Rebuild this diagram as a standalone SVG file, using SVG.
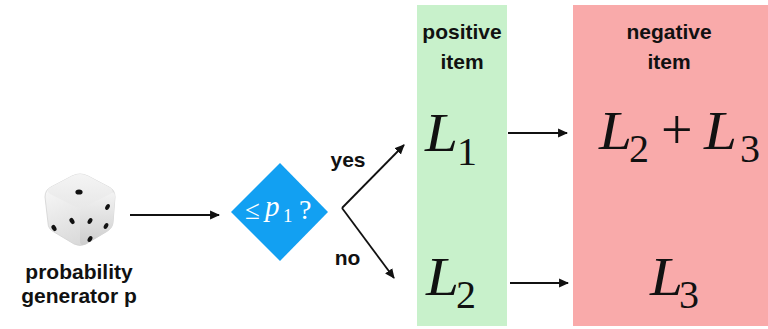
<svg xmlns="http://www.w3.org/2000/svg" width="768" height="329" viewBox="0 0 768 329">
  <style>
    .lbl { font-family: "Liberation Sans", Arial, sans-serif; font-weight: bold; font-size: 21px; fill: #111; }
    .math { font-family: "Liberation Serif", "Times New Roman", serif; fill: #111; }
    .it { font-style: italic; }
    .inv { fill: #fff; }
    .edge { stroke: #111; stroke-width: 1.8; fill: none; marker-end: url(#head); }
    .pip { fill: #111; }
  </style>
  <defs>
    <marker id="head" viewBox="0 0 10 10" refX="9" refY="5" markerWidth="5.5" markerHeight="5.5" markerUnits="strokeWidth" orient="auto">
      <path d="M0,0.5 L10,5 L0,9.5 z" fill="#111"/>
    </marker>
    <linearGradient id="topFace" x1="0" y1="0" x2="0" y2="1">
      <stop offset="0" stop-color="#f4f4f4"/>
      <stop offset="1" stop-color="#e8e8e8"/>
    </linearGradient>
    <linearGradient id="leftFace" x1="0" y1="0" x2="0.4" y2="1">
      <stop offset="0" stop-color="#fdfdfd"/>
      <stop offset="1" stop-color="#dadada"/>
    </linearGradient>
    <linearGradient id="rightFace" x1="0" y1="0" x2="0" y2="1">
      <stop offset="0" stop-color="#f3f3f3"/>
      <stop offset="1" stop-color="#cdcdcd"/>
    </linearGradient>
  </defs>

  <!-- column backgrounds -->
  <rect x="417" y="5" width="90" height="321" fill="#c8f1cb"/>
  <rect x="573" y="5" width="195" height="321" fill="#f9aaaa"/>

  <!-- connectors -->
  <g id="connectors">
    <line class="edge" x1="130" y1="215" x2="219" y2="215"/>
    <line class="edge" x1="342" y1="208" x2="404" y2="145"/>
    <line class="edge" x1="342" y1="208" x2="394" y2="278"/>
    <line class="edge" x1="508" y1="133" x2="567" y2="133"/>
    <line class="edge" x1="510" y1="283" x2="568" y2="283"/>
  </g>

  <!-- die -->
  <g id="generator">
    <path d="M72,176 Q80,172 88,176 L109,187 Q115,190 115,197 L113,223 Q112,229 106,232 L86,244 Q80,247 74,244 L54,232 Q48,229 48,223 L45,197 Q45,190 51,187 Z" fill="url(#leftFace)" stroke="#d2d2d2" stroke-width="0.8"/>
    <path d="M72,176 Q80,172 88,176 L109,187 Q115,190 110,194 L86,206 Q80,209 74,206 L50,194 Q45,190 51,187 Z" fill="url(#topFace)"/>
    <path d="M110,194 Q115,190 115,197 L113,223 Q112,229 106,232 L86,244 Q80,247 80,241 L80,212 Q80,208 86,206 Z" fill="url(#rightFace)"/>
    <ellipse class="pip" cx="79" cy="192" rx="3.6" ry="2.6"/>
    <ellipse class="pip" cx="54" cy="228" rx="2.2" ry="3.3" transform="rotate(-30 54 228)"/>
    <ellipse class="pip" cx="72" cy="221" rx="2.2" ry="3.3" transform="rotate(-30 72 221)"/>
    <ellipse class="pip" cx="90" cy="221" rx="2.1" ry="3.2" transform="rotate(30 90 221)"/>
    <ellipse class="pip" cx="107.5" cy="207" rx="2.0" ry="3.1" transform="rotate(30 107.5 207)"/>
    <ellipse class="pip" cx="106" cy="226" rx="2.0" ry="3.1" transform="rotate(30 106 226)"/>
    <ellipse class="pip" cx="90" cy="239" rx="2.1" ry="3.2" transform="rotate(30 90 239)"/>
    <text class="lbl" x="79" y="279" text-anchor="middle">probability</text>
    <text class="lbl" x="79" y="303" text-anchor="middle">generator p</text>
  </g>

  <!-- decision -->
  <g id="decision">
    <polygon points="280,163 328,212 280,261 231,212" fill="#12a0f2"/>
    <text class="math inv" x="245" y="219" font-size="27">≤</text>
    <text class="math it inv" x="265" y="216" font-size="29">p</text>
    <text class="math inv" x="283" y="222" font-size="19">1</text>
    <text class="math inv" x="299" y="219" font-size="28">?</text>
  </g>

  <g id="branch-labels">
    <text class="lbl" x="348" y="167" text-anchor="middle">yes</text>
    <text class="lbl" x="347.5" y="265" text-anchor="middle">no</text>
  </g>

  <!-- positive item column -->
  <g id="positive">
    <text class="lbl" x="462" y="39" text-anchor="middle">positive</text>
    <text class="lbl" x="462" y="69" text-anchor="middle">item</text>
    <text class="math it" x="425" y="151" font-size="54" textLength="33" lengthAdjust="spacingAndGlyphs">L</text>
    <text class="math" x="457" y="165" font-size="40">1</text>
    <text class="math it" x="426" y="295" font-size="54" textLength="33" lengthAdjust="spacingAndGlyphs">L</text>
    <text class="math" x="456" y="308" font-size="40">2</text>
  </g>

  <!-- negative item column -->
  <g id="negative">
    <text class="lbl" x="669" y="39" text-anchor="middle">negative</text>
    <text class="lbl" x="669" y="69" text-anchor="middle">item</text>
    <text class="math it" x="599" y="149" font-size="54" textLength="33" lengthAdjust="spacingAndGlyphs">L</text>
    <text class="math" x="629" y="162" font-size="40">2</text>
    <text class="math" x="661" y="149" font-size="56">+</text>
    <text class="math it" x="704" y="149" font-size="54" textLength="33" lengthAdjust="spacingAndGlyphs">L</text>
    <text class="math" x="740" y="162" font-size="40">3</text>
    <text class="math it" x="650" y="295" font-size="54" textLength="33" lengthAdjust="spacingAndGlyphs">L</text>
    <text class="math" x="679" y="308" font-size="40">3</text>
  </g>
</svg>
